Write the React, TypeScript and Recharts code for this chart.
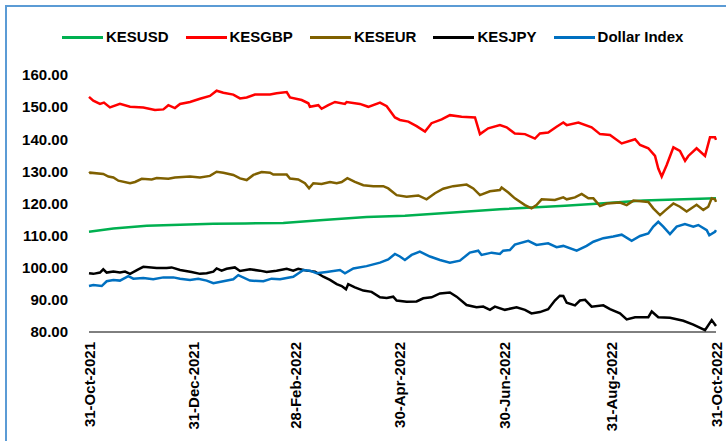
import { LineChart, Line, XAxis, YAxis, Legend } from 'recharts'

// days counted from 31-Oct-2021
const TICK_DAYS = [0, 61, 120, 181, 242, 304, 365]
const TICK_LABELS = ['31-Oct-2021', '31-Dec-2021', '28-Feb-2022', '30-Apr-2022', '30-Jun-2022', '31-Aug-2022', '31-Oct-2022']
const Y_TICKS = [80, 90, 100, 110, 120, 130, 140, 150, 160]

const KESUSD: [number, number][] = [
  [0, 111.2], [14.2, 112.2], [33.6, 113.1], [53, 113.4], [72.4, 113.7], [90.8, 113.8],
  [113.1, 113.9], [136.4, 114.9], [161.6, 115.8], [183.9, 116.2], [212, 117.2],
  [239.2, 118.2], [277, 119.3], [297.5, 120.0], [322.7, 120.9], [365, 121.6],
]

const KESGBP: [number, number][] = [
  [0, 153.2], [2.5, 152.0], [6.4, 151.0], [8.7, 151.4], [12.2, 149.9], [18, 151.0], [23.9, 150.1],
  [31.6, 149.9], [38.4, 149.1], [43.3, 149.3], [46.2, 150.6], [50, 149.7], [53, 151.0], [58.8, 151.6],
  [64.6, 152.6], [70.4, 153.5], [74.3, 155.1], [78.2, 154.5], [84, 153.9], [87.9, 152.7], [91.8, 153.0],
  [96.6, 153.9], [105.4, 153.9], [109.2, 154.3], [115.1, 154.7], [117, 153.0], [123.8, 152.2],
  [127.7, 151.2], [128.6, 150.1], [133.5, 150.6], [135.4, 149.5], [139.3, 150.6], [143.2, 151.6],
  [149, 151.0], [150, 151.6], [157.7, 151.0], [162.6, 150.1], [169.4, 151.4], [173.3, 150.3],
  [178.1, 146.8], [181, 146.0], [185.9, 145.5], [190.7, 144.1], [195.6, 142.4], [199.4, 145.0],
  [205.3, 146.2], [210.1, 147.5], [216.9, 147.0], [224.7, 146.8], [227.6, 141.6], [232.4, 143.4],
  [239.2, 144.4], [243.1, 143.7], [247.9, 141.8], [253.8, 141.6], [259.6, 140.2], [262.5, 141.8],
  [267.3, 142.1], [272.2, 143.9], [276.1, 145.2], [278.1, 144.4], [284.9, 145.2], [292.6, 143.7],
  [297.5, 141.6], [303.3, 141.3], [310.1, 138.7], [317.9, 140.0], [320.8, 138.2], [325.6, 137.2],
  [329.5, 134.8], [331.4, 130.9], [333.4, 128.4], [336.3, 132.0], [340.2, 137.5], [344, 136.4],
  [347, 133.3], [348.9, 134.8], [353.7, 137.2], [358.6, 134.8], [361.5, 140.6], [364.4, 140.6],
  [365, 139.8],
]

const KESEUR: [number, number][] = [
  [0, 129.4], [0.6, 129.6], [8.3, 129.2], [11.3, 128.4], [14.2, 128.1], [17.1, 127.1], [23.9, 126.3],
  [26.8, 126.7], [30.7, 127.7], [36.5, 127.5], [39.4, 127.9], [46.2, 127.7], [50, 128.1], [58.8, 128.4],
  [64.6, 128.1], [70.4, 128.6], [74.3, 129.9], [78.2, 129.6], [84, 128.9], [87.9, 127.8], [91.8, 127.3],
  [95.7, 128.9], [100.5, 129.8], [105.4, 129.6], [107.3, 129.0], [115.1, 129.0], [117, 127.8],
  [121.8, 127.5], [125.7, 126.3], [128.1, 124.7], [130.6, 126.3], [135.4, 126.1], [140.3, 126.7],
  [144.2, 126.3], [147.1, 126.7], [150.4, 127.9], [154.8, 126.7], [159.7, 125.7], [165.5, 125.4],
  [171.3, 125.4], [174.2, 124.7], [179.1, 122.6], [184.9, 122.1], [191.7, 122.5], [196.5, 121.3],
  [201.4, 123.2], [206.2, 124.6], [212, 125.4], [219.8, 125.9], [223.7, 124.7], [227.6, 122.6],
  [233.4, 123.8], [239.2, 124.2], [240.2, 125.0], [244.1, 123.4], [247.9, 121.6], [253.8, 119.5],
  [257.6, 118.5], [260.5, 119.5], [263.5, 121.3], [271.2, 121.1], [276.1, 121.9], [278.1, 121.3],
  [282.9, 121.9], [286.8, 123.0], [290.7, 121.6], [293.6, 121.6], [297.5, 119.2], [301.4, 120.0],
  [309.1, 120.3], [313, 119.5], [316.9, 120.9], [325.6, 120.5], [328.5, 118.5], [332.4, 116.4],
  [335.3, 117.8], [340.2, 120.0], [344, 119.0], [347.9, 117.5], [353.7, 119.6], [357.6, 118.0],
  [360.5, 119.0], [362.5, 121.6], [364.4, 121.3], [365, 120.5],
]

const KESJPY: [number, number][] = [
  [0, 98.3], [2.5, 98.1], [6.4, 98.5], [8.3, 99.5], [10.3, 98.5], [14.2, 98.8], [18, 98.5], [21, 98.8],
  [23.9, 98.1], [28.7, 99.5], [31.6, 100.3], [39.4, 99.9], [45.2, 99.9], [48.1, 100.1], [53, 99.3],
  [59.7, 98.7], [64.6, 98.1], [68.5, 98.3], [72.4, 98.8], [74.3, 99.8], [77.2, 99.1], [80.1, 99.7],
  [84.9, 100.1], [87.9, 99.0], [93.7, 99.5], [99.5, 99.1], [103.4, 98.7], [109.2, 99.1], [115.1, 99.7],
  [118.9, 99.1], [121.8, 99.7], [126.7, 99.1], [131.6, 98.8], [136.4, 97.2], [140.3, 96.2],
  [144.2, 94.9], [147.1, 94.3], [149.6, 93.3], [150.9, 94.9], [154.8, 93.9], [159.7, 92.9],
  [164.5, 92.5], [169.4, 90.8], [173.3, 90.6], [177.1, 91.0], [179.1, 89.8], [184.9, 89.4],
  [190.7, 89.5], [194.6, 90.5], [199.4, 90.8], [204.3, 92.0], [210.1, 92.3], [214, 91.0],
  [219.8, 88.4], [225.6, 87.7], [229.5, 87.9], [233.4, 86.9], [236.3, 87.9], [242.1, 86.9],
  [248.9, 87.7], [253.8, 86.9], [257.6, 85.8], [262.5, 86.2], [267.3, 87.1], [271.2, 89.8],
  [274.1, 91.3], [276.1, 91.2], [278.1, 89.1], [282.9, 88.3], [285.8, 89.8], [288.8, 90.0],
  [292.6, 87.9], [299.4, 88.3], [303.3, 87.1], [309.1, 85.8], [313, 83.9], [317.9, 84.6],
  [325.6, 84.6], [327.6, 86.4], [331.4, 84.6], [338.2, 84.4], [346, 83.5], [351.8, 82.3],
  [358.6, 80.6], [362.5, 83.7], [365, 81.9],
]

const DOLLAR_INDEX: [number, number][] = [
  [0, 94.3], [2.5, 94.6], [7.4, 94.3], [10.3, 95.8], [14.2, 96.2], [18, 96.0], [22.9, 97.4],
  [25.8, 96.6], [31.6, 96.8], [37.4, 96.4], [43.3, 97.0], [49.1, 97.0], [53, 96.6], [58.8, 96.2],
  [63.6, 96.6], [68.5, 96.0], [72.4, 95.2], [78.2, 95.8], [84, 96.4], [86.9, 97.7], [93.7, 96.0],
  [101.5, 95.8], [106.3, 96.6], [111.2, 96.4], [118.9, 97.2], [124.8, 99.3], [128.6, 99.1],
  [132.5, 98.3], [138.3, 98.7], [146.1, 99.3], [149, 98.3], [153.9, 99.8], [161.6, 100.5],
  [169.4, 101.6], [174.2, 102.6], [178.1, 104.3], [181, 103.5], [183.9, 102.4], [187.8, 104.0],
  [192.6, 105.0], [198.5, 103.5], [204.3, 102.4], [210.1, 101.6], [215.9, 102.2], [221.7, 104.7],
  [226.6, 105.3], [228.5, 104.0], [234.4, 104.7], [239.2, 104.3], [241.1, 105.3], [245, 105.5],
  [247.9, 107.2], [255.7, 108.4], [260.5, 107.1], [267.3, 107.6], [272.2, 106.4], [276.1, 106.8],
  [283.9, 105.3], [289.7, 106.8], [293.6, 108.1], [299.4, 109.2], [305.2, 109.7], [310.1, 110.3],
  [315.9, 108.4], [320.8, 109.9], [325.6, 110.7], [328.5, 112.8], [331.4, 114.3], [334.3, 112.8],
  [338.2, 110.5], [342.1, 112.8], [346.9, 113.6], [351.8, 112.8], [354.7, 113.3], [359.6, 111.7],
  [361.1, 110.1], [364.4, 111.2], [365, 111.7],
]

const SERIES = [
  { name: 'KESUSD', points: KESUSD, color: '#00B050' },
  { name: 'KESGBP', points: KESGBP, color: '#FF0000' },
  { name: 'KESEUR', points: KESEUR, color: '#7F6000' },
  { name: 'KESJPY', points: KESJPY, color: '#000000' },
  { name: 'Dollar Index', points: DOLLAR_INDEX, color: '#0070C0' },
]

const FONT = '"Liberation Sans", Arial, sans-serif'

const toRows = (pts: [number, number][]) => pts.map(([d, v]) => ({ d, v }))

function DateTick({ x, y, payload }: any) {
  const i = TICK_DAYS.indexOf(payload.value)
  return (
    <text
      transform={`translate(${x},${y + 10}) rotate(-90)`}
      textAnchor="end"
      dominantBaseline="central"
      fontSize={15}
      fontWeight="bold"
      fontFamily={FONT}
      fill="#000"
    >
      {TICK_LABELS[i]}
    </text>
  )
}

// legend keeps the series order (the payload arrives reversed)
function LegendBox({ payload }: any) {
  const items = [...(payload || [])].sort(
    (a: any, b: any) =>
      SERIES.findIndex((s) => s.name === a.value) - SERIES.findIndex((s) => s.name === b.value),
  )
  return (
    <div
      style={{
        display: 'flex',
        alignItems: 'center',
        gap: 17,
        paddingLeft: 62,
        fontFamily: FONT,
        fontWeight: 700,
        fontSize: 15,
        lineHeight: '18px',
        color: '#000',
      }}
    >
      {items.map((p: any) => (
        <div key={p.value} style={{ display: 'flex', alignItems: 'center' }}>
          <span style={{ display: 'inline-block', width: 41, height: 3, background: p.color, marginRight: 3 }} />
          {p.value}
        </div>
      ))}
    </div>
  )
}

export default function App() {
  return (
    <div style={{ position: 'fixed', left: 0, top: 0, width: 726, height: 441, overflow: 'hidden', background: '#fff' }}>
      {/* frame: only top/left edges visible in the crop */}
      <div
        style={{
          position: 'absolute',
          left: 5,
          top: 5,
          width: 760,
          height: 480,
          border: '2px solid #5B9BD5',
        }}
      />
      <div style={{ position: 'absolute', left: 0, top: 0 }}>
        <LineChart width={726} height={441} margin={{ top: 75, right: 10, bottom: 0, left: 0 }}>
          <XAxis
            dataKey="d"
            type="number"
            domain={[0, 365]}
            ticks={TICK_DAYS}
            tick={<DateTick />}
            tickLine={false}
            tickSize={0}
            tickMargin={0}
            height={109}
            interval={0}
            stroke="#000"
            allowDuplicatedCategory={false}
          />
          <YAxis
            domain={[80, 160]}
            ticks={Y_TICKS}
            tickFormatter={(v: number) => v.toFixed(2)}
            axisLine={false}
            tickLine={false}
            tickSize={0}
            tickMargin={21}
            width={89}
            interval={0}
            tick={{ fontSize: 15, fontWeight: 'bold', fill: '#000', fontFamily: FONT }}
          />
          <Legend
            verticalAlign="middle"
            align="center"
            content={<LegendBox />}
            wrapperStyle={{ top: 28, left: 0, width: 726 }}
          />
          {SERIES.map((s) => (
            <Line
              key={s.name}
              name={s.name}
              data={toRows(s.points)}
              dataKey="v"
              type="linear"
              stroke={s.color}
              strokeWidth={2.5}
              dot={false}
              isAnimationActive={false}
            />
          ))}
        </LineChart>
      </div>
    </div>
  )
}
